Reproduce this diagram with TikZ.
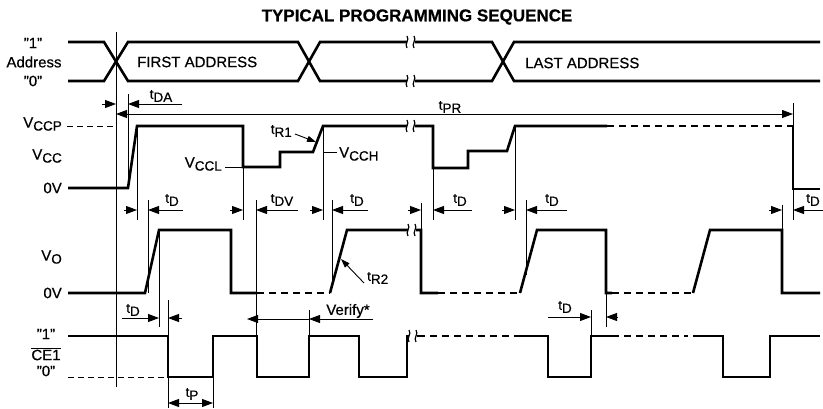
\documentclass[tikz,border=0pt]{standalone}
\usepackage{fontspec}
\setmainfont{Liberation Sans}[FakeBold=0.6]
\usetikzlibrary{arrows.meta}

\newcommand{\sbs}[2]{#1\raisebox{-3pt}{\fontsize{13.5}{13.5}\selectfont #2}}
\newcommand{\tsb}[1]{{\fontsize{13.5}{13.5}\selectfont t}\raisebox{-3pt}{\fontsize{13.5}{13.5}\selectfont #1}}
\newcommand{\brk}[2]{%
  \fill[white] (#1-4,#2-7) rectangle (#1+4,#2+7);
  \draw[line width=1.2pt] (#1-4,#2-6) .. controls (#1-1,#2-2) and (#1-7,#2+2) .. (#1-4,#2+6);
  \draw[line width=1.2pt] (#1+3,#2-6) .. controls (#1+6,#2-2) and (#1,#2+2) .. (#1+3,#2+6);}

\tikzset{
  sig/.style={line width=2.6pt},
  sigdash/.style={line width=2.6pt, dash pattern=on 7pt off 5pt},
  guide/.style={line width=0.9pt},
  thindash/.style={line width=0.9pt, dash pattern=on 6pt off 4pt},
  dimarr/.style={guide, -{Triangle[length=11pt,width=8pt]}},
  leader/.style={guide, -{Triangle[length=9pt,width=6pt]}},
  txt/.style={font=\fontsize{15}{15}\selectfont, inner sep=0pt},
}

\begin{document}
\begin{tikzpicture}[x=1pt,y=-1pt]
\useasboundingbox (0,0) rectangle (823,409);

\node[font=\bfseries\fontsize{17}{17}\selectfont, inner sep=0pt] (title) at (417,17) {TYPICAL PROGRAMMING SEQUENCE};

% address
\node[txt] (a1) at (33,43) {''1''};
\node[txt] (addr) at (34,62) {Address};
\node[txt] (a0) at (33,81) {''0''};
\node[txt, anchor=west] (first) at (137,62) {FIRST ADDRESS};
\node[txt, anchor=west] (last) at (525,63) {LAST ADDRESS};
\draw[sig] (68,42) -- (104,42) -- (128,81) -- (298,81) -- (320,42) -- (492,42) -- (514,81) -- (820,81);
\draw[sig] (68,81) -- (104,81) -- (128,42) -- (298,42) -- (320,81) -- (492,81) -- (514,42) -- (820,42);
\brk{411}{42}
\brk{411}{81}

% guide lines
\draw[guide] (116,32) -- (116,387);
\draw[guide] (128,94) -- (128,188);
\draw[guide] (137,126) -- (137,220);
\draw[guide] (148,200) -- (148,293);
\draw[guide] (159,230) -- (159,327);
\draw[guide] (168,300) -- (168,408);
\draw[guide] (213,377) -- (213,408);
\draw[guide] (243,167) -- (243,220);
\draw[guide] (256,200) -- (256,336);
\draw[guide] (309,310) -- (309,336);
\draw[guide] (323,126) -- (323,220);
\draw[guide] (332,200) -- (332,287);
\draw[guide] (421,203) -- (421,230);
\draw[guide] (433,168) -- (433,220);
\draw[guide] (515,126) -- (515,220);
\draw[guide] (526,200) -- (526,275);
\draw[guide] (591,310) -- (591,336);
\draw[guide] (606,293) -- (606,327);
\draw[guide] (782,205) -- (782,230);
\draw[guide] (793,103) -- (793,126);
\draw[guide] (793,189) -- (793,220);

% tDA and tPR
\node[txt] (tda) at (161,96) {\tsb{DA}};
\draw[dimarr] (102,104) -- (116,104);
\draw[dimarr] (182,104) -- (128,104);
\node[txt] (tpr) at (450,107) {\tsb{PR}};
\draw[guide, {Triangle[length=11pt,width=8pt]}-{Triangle[length=11pt,width=8pt]}] (116,114) -- (793,114);

% Vcc
\node[txt, anchor=east] (vccp) at (62,124) {\sbs{V}{CCP}};
\draw[thindash] (67,126) -- (116,126);
\node[txt, anchor=east] (vcc) at (62,156) {\sbs{V}{CC}};
\node[txt, anchor=east] (ov1) at (62,188) {0V};
\draw[sig] (68,188) -- (128,188) -- (137,126) -- (243,126) -- (243,167) -- (280,167) -- (280,152) -- (313,152) -- (323,126) -- (433,126) -- (433,168) -- (468,168) -- (468,151) -- (507,151) -- (515,126) -- (607,126);
\draw[sigdash] (607,126) -- (793,126);
\draw[sig] (793,126) -- (793,189) -- (820,189);
\brk{411}{126}

\node[txt, anchor=east] (vccl) at (222,164) {\sbs{V}{CCL}};
\coordinate (vcclpt) at (243,167);
\draw[guide] ([xshift=3pt]vccl.east |- vcclpt) -- (vcclpt);
\node[txt, anchor=west] (vcch) at (339,154) {\sbs{V}{CCH}};
\coordinate (vcchpt) at (323,152);
\draw[guide] (vcchpt) -- ([xshift=-2pt]vcch.west |- vcchpt);
\node[txt, anchor=east] (tr1) at (292,131) {\tsb{R1}};
\coordinate (tr1pt) at (316,142);
\draw[leader] ([shift={(3pt,-3pt)}]tr1.east) -- (tr1pt);

% tD row
\foreach \a/\b/\e/\lx/\lab in {137/148/183/172/D, 243/256/298/282/DV, 323/332/368/357/D, 421/433/472/460/D, 515/526/567/552/D, 782/793/830/813/D}{
  \draw[dimarr] (\a-13,210) -- (\a,210);
  \draw[dimarr] (\e,210) -- (\b,210);
  \node[txt] (td-\a) at (\lx,200) {\tsb{\lab}};
}

% Vo
\node[txt, anchor=east] (vo) at (62,257) {\sbs{V}{O}};
\node[txt, anchor=east] (ov2) at (62,293) {0V};
\draw[sig] (68,293) -- (145,293) -- (159,230) -- (231,230) -- (231,293) -- (257,293);
\draw[sigdash] (257,293) -- (330,293);
\draw[sig] (330,293) -- (347,230) -- (421,230) -- (421,293) -- (438,293);
\draw[sigdash] (438,293) -- (520,293);
\draw[sig] (520,293) -- (537,230) -- (606,230) -- (606,293) -- (612,293);
\draw[sigdash] (612,293) -- (693,293);
\draw[sig] (693,293) -- (710,230) -- (782,230) -- (782,293) -- (820,293);
\brk{412}{230}
\node[txt, anchor=west] (tr2) at (367,278) {\tsb{R2}};
\coordinate (tr2pt) at (341,259);
\draw[leader] ([shift={(-3pt,-5pt)}]tr2.west) -- (tr2pt);

% CE1
\node[txt] (c1) at (46,334) {''1''};
\node[txt] (ce) at (46,354) {$\overline{\mbox{CE1}}$};
\node[txt] (c0) at (46,371) {''0''};
\draw[thindash] (68,377) -- (168,377);
\draw[sig] (68,336) -- (168,336) -- (168,377) -- (213,377) -- (213,336) -- (257,336) -- (257,377) -- (309,377) -- (309,336) -- (359,336) -- (359,377) -- (407,377) -- (407,336) -- (418,336);
\draw[sigdash] (418,336) -- (518,336);
\draw[sig] (518,336) -- (548,336) -- (548,377) -- (591,377) -- (591,336) -- (612,336);
\draw[sigdash] (612,336) -- (688,336);
\draw[sig] (693,336) -- (723,336) -- (723,377) -- (770,377) -- (770,336) -- (820,336);
\brk{413}{336}

\node[txt] (tdc1) at (133,310) {\tsb{D}};
\draw[dimarr] (122,318) -- (159,318);
\draw[dimarr] (182,318) -- (168,318);
\node[txt] (verify) at (348,311) {Verify*};
\draw[dimarr] (373,319) -- (309,319);
\draw[dimarr] (309,319) -- (247,319);
\node[txt] (tdc2) at (565,307) {\tsb{D}};
\draw[dimarr] (548,317) -- (591,317);
\draw[dimarr] (618,317) -- (606,317);
\node[txt] (tp) at (192,394) {\tsb{P}};
\draw[guide, {Triangle[length=11pt,width=8pt]}-{Triangle[length=11pt,width=8pt]}] (168,403) -- (213,403);
\end{tikzpicture}
\end{document}
